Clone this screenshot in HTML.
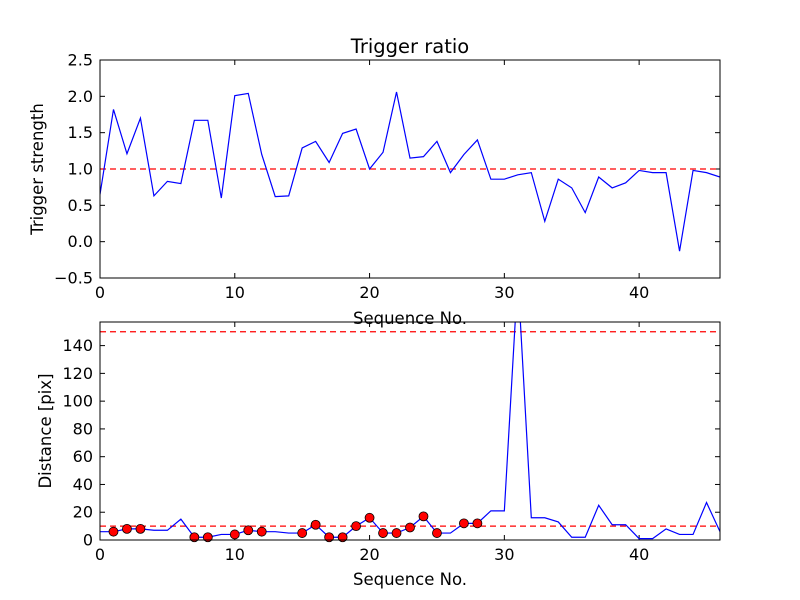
<!DOCTYPE html>
<html><head><meta charset="utf-8"><style>
body{margin:0;background:#fff;}
svg{display:block;font-family:"DejaVu Sans","Liberation Sans",sans-serif;}
</style></head><body>
<svg id="chart" width="800" height="600">
<defs>
<clipPath id="c1"><rect x="100" y="60" width="620" height="218"/></clipPath>
<clipPath id="c2"><rect x="100" y="322" width="620" height="218"/></clipPath>
</defs>
<rect width="800" height="600" fill="#fff"/>
<text x="410" y="53" text-anchor="middle" font-size="19.5">Trigger ratio</text>
<text x="410" y="324" text-anchor="middle" font-size="16.5">Sequence No.</text>
<text x="410" y="585" text-anchor="middle" font-size="16.5">Sequence No.</text>
<text transform="translate(43,169) rotate(-90)" text-anchor="middle" font-size="16.5">Trigger strength</text>
<text transform="translate(51,431) rotate(-90)" text-anchor="middle" font-size="16.5">Distance [pix]</text>
<g id="g"></g>
</svg>
<script>
const xIdx = Array.from({length:47},(_,i)=>i);
const triggerValues = [0.65,1.82,1.21,1.70,0.63,0.83,0.80,1.67,1.67,0.60,2.01,2.04,1.20,0.62,0.63,1.29,1.38,1.09,1.49,1.55,1.00,1.23,2.06,1.15,1.17,1.38,0.95,1.20,1.40,0.86,0.86,0.92,0.95,0.28,0.86,0.74,0.40,0.89,0.74,0.81,0.98,0.95,0.95,-0.13,0.98,0.95,0.89];
const distanceValues = [6,6,8,8,7,7,15,2,2,4,4,7,6,6,5,5,11,2,2,10,16,5,5,9,17,5,5,12,12,21,21,190,16,16,13,2,2,25,11,11,1,1,8,4,4,27,6];
const markerIdx = [1,2,3,7,8,10,11,12,15,16,17,18,19,20,21,22,23,24,25,27,28];
const topYTicks = [-0.5,0.0,0.5,1.0,1.5,2.0,2.5];
const botYTicks = [0,20,40,60,80,100,120,140];
const xTicks = [0,10,20,30,40];
const topThreshold = 1.0;
const botThresholds = [10,150];

const NS="http://www.w3.org/2000/svg";
const g=document.getElementById('g');
function el(t,a){const e=document.createElementNS(NS,t);for(const k in a)e.setAttribute(k,a[k]);g.appendChild(e);return e;}
const X0=100,X1=720;
const sx=v=>X0+(v-0)/(46-0)*(X1-X0);
function panel(y0,y1,ymin,ymax,ticks,fmt,name){
  const sy=v=>y1-(v-ymin)/(ymax-ymin)*(y1-y0);
  ticks.forEach(t=>{
    const y=sy(t);
    const l=el('line',{x1:X0,x2:X0+5,y1:y,y2:y,stroke:'#000'});
    
    
    const l2=el('line',{x1:X1-5,x2:X1,y1:y,y2:y,stroke:'#000'});
    
    
    const tx=el('text',{x:X0-7,y:y+5.5,'text-anchor':'end','font-size':16});
    tx.textContent=fmt(t);
    
    
  });
  xTicks.forEach(t=>{
    const x=sx(t);
    const l=el('line',{x1:x,x2:x,y1:y1,y2:y1-5,stroke:'#000'});
    
    
    const l2=el('line',{x1:x,x2:x,y1:y0,y2:y0+5,stroke:'#000'});
    
    
    const tx=el('text',{x:x,y:y1+20,'text-anchor':'middle','font-size':16});
    tx.textContent=t;
    
    
  });
  return sy;
}
const syT=panel(60,278,-0.5,2.5,topYTicks,v=>v.toFixed(1).replace('-','\u2212'),'top');
let d=el('line',{x1:X0,x2:X1,y1:syT(topThreshold),y2:syT(topThreshold),stroke:'red','stroke-width':1.2,'stroke-dasharray':'6,4'});


let p=el('polyline',{points:xIdx.map(i=>sx(i)+','+syT(triggerValues[i])).join(' '),fill:'none',stroke:'blue','stroke-width':1.2,'clip-path':'url(#c1)'});


let r=el('rect',{x:X0,y:60,width:X1-X0,height:218,fill:'none',stroke:'#000'});


const syB=panel(322,540,0,157,botYTicks,v=>String(v),'bottom');
botThresholds.forEach(t=>{
  const dl=el('line',{x1:X0,x2:X1,y1:syB(t),y2:syB(t),stroke:'red','stroke-width':1.2,'stroke-dasharray':'6,4'});
  
  
});
p=el('polyline',{points:xIdx.map(i=>sx(i)+','+syB(distanceValues[i])).join(' '),fill:'none',stroke:'blue','stroke-width':1.2,'clip-path':'url(#c2)'});


markerIdx.forEach(i=>{
  const c=el('circle',{cx:sx(i),cy:syB(distanceValues[i]),r:4.5,fill:'red',stroke:'#000','stroke-width':0.8});
  
  
});
r=el('rect',{x:X0,y:322,width:X1-X0,height:218,fill:'none',stroke:'#000'});


</script>
</body></html>
